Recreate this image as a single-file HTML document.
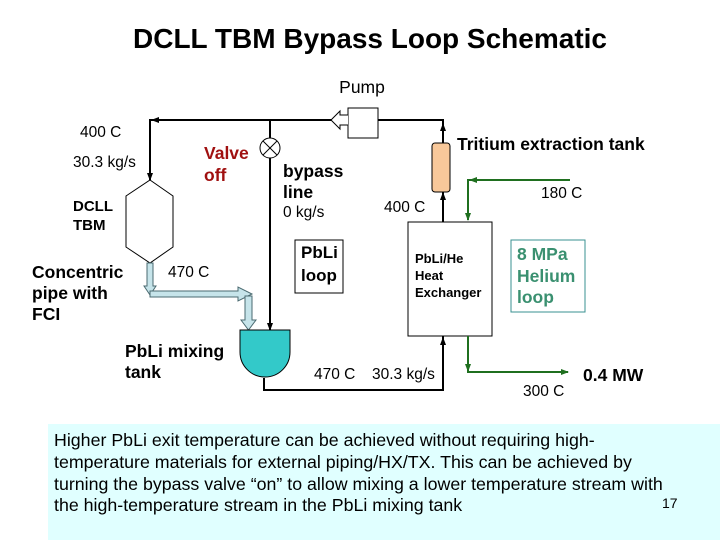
<!DOCTYPE html>
<html><head><meta charset="utf-8"><style>
body{margin:0;background:#fff}
svg{display:block;font-family:"Liberation Sans",Arial,sans-serif}
.b{font-weight:bold}
</style></head><body>
<svg width="720" height="540" viewBox="0 0 720 540">
<defs>
<marker id="a" markerWidth="8" markerHeight="8" refX="7" refY="4" orient="auto" markerUnits="userSpaceOnUse"><path d="M0,1 L8,4 L0,7 Z" fill="#000"/></marker>
<marker id="g" markerWidth="8" markerHeight="8" refX="7" refY="4" orient="auto" markerUnits="userSpaceOnUse"><path d="M0,1 L8,4 L0,7 Z" fill="#1f6f1f"/></marker>
</defs>
<text x="370" y="48" text-anchor="middle" font-size="27.5" class="b" textLength="474" lengthAdjust="spacingAndGlyphs">DCLL TBM Bypass Loop Schematic</text>
<text x="362" y="93" text-anchor="middle" font-size="17.5">Pump</text>

<polyline points="443,222 443,120 378,120" fill="none" stroke="#000" stroke-width="2" />
<line x1="443" y1="145" x2="443" y2="124" stroke="#000" stroke-width="2" marker-end="url(#a)"/>
<line x1="443" y1="222" x2="443" y2="193" stroke="#000" stroke-width="2" marker-end="url(#a)"/>
<polyline points="333,120 150,120 150,180" fill="none" stroke="#000" stroke-width="2" marker-end="url(#a)"/>
<line x1="160" y1="120" x2="152" y2="120" stroke="#000" stroke-width="2" marker-end="url(#a)"/>
<rect x="348" y="108" width="30" height="30" fill="#fff" stroke="#000"/>
<path d="M348,115 L340,115 L340,111 L331,120 L340,129 L340,125 L348,125" fill="#fff" stroke="#000"/>
<line x1="270" y1="120" x2="270" y2="330" stroke="#000" stroke-width="2" marker-end="url(#a)"/>
<circle cx="270" cy="148" r="10" fill="#fff" stroke="#000"/>
<line x1="263" y1="141" x2="277" y2="155" stroke="#000"/><line x1="277" y1="141" x2="263" y2="155" stroke="#000"/>
<polyline points="264,378 264,390 443,390 443,336" fill="none" stroke="#000" stroke-width="2"/>
<line x1="443" y1="360" x2="443" y2="338" stroke="#000" stroke-width="2" marker-end="url(#a)"/>
<polygon points="150,180 173,196 173,247 150,263 126,247 126,196" fill="#fff" stroke="#000"/>
<g fill="#c6e4ea" stroke="#4a6a70" stroke-width="1">
<path d="M147,263 L153,263 L153,286 L156,286 L150,295 L144,286 L147,286 Z"/>
<path d="M150,291 L238,291 L238,287 L252,294 L238,301 L238,297 L150,297 Z"/>
<path d="M245,296 L252,296 L252,320 L256,320 L248.5,330 L241,320 L245,320 Z"/>
</g>
<path d="M240,330 L290,330 L290,352 A25,25 0 0 1 240,352 Z" fill="#33c9c9" stroke="#000"/>
<rect x="432" y="143" width="18" height="49" rx="3" fill="#f8c89a" stroke="#000"/>
<rect x="408" y="222" width="84" height="114" fill="#fff" stroke="#000"/>
<polyline points="570,180 468,180 468,220" fill="none" stroke="#1f6f1f" stroke-width="2" marker-end="url(#g)"/>
<line x1="480" y1="180" x2="470" y2="180" stroke="#1f6f1f" stroke-width="2" marker-end="url(#g)"/>
<polyline points="468,336 468,372 568,372" fill="none" stroke="#1f6f1f" stroke-width="2" marker-end="url(#g)"/>
<line x1="468" y1="360" x2="468" y2="371" stroke="#1f6f1f" stroke-width="2" marker-end="url(#g)"/>
<rect x="511" y="240" width="74" height="72" fill="#fff" stroke="#3a9090"/>
<rect x="295" y="240" width="48" height="53" fill="#fff" stroke="#000"/>

<text x="80" y="137" font-size="15.5">400 C</text>
<text x="73" y="167" font-size="15.5">30.3 kg/s</text>
<text x="73" y="211" font-size="15" class="b">DCLL</text>
<text x="73" y="230" font-size="15" class="b">TBM</text>
<text x="32" y="278" font-size="17.5" class="b">Concentric</text>
<text x="32" y="299" font-size="17.5" class="b">pipe with</text>
<text x="32" y="320" font-size="17.5" class="b">FCI</text>
<text x="168" y="277" font-size="15.5">470 C</text>
<text x="204" y="159" font-size="17.5" class="b" fill="#a01010">Valve</text>
<text x="204" y="181" font-size="17.5" class="b" fill="#a01010">off</text>
<text x="283" y="177" font-size="17.5" class="b">bypass</text>
<text x="283" y="198" font-size="17.5" class="b">line</text>
<text x="283" y="217" font-size="15.5">0 kg/s</text>
<text x="125" y="357" font-size="17.5" class="b">PbLi mixing</text>
<text x="125" y="378" font-size="17.5" class="b">tank</text>
<text x="301" y="258" font-size="17" class="b">PbLi</text>
<text x="301" y="281" font-size="17" class="b">loop</text>
<text x="314" y="379" font-size="15.5">470 C</text>
<text x="372" y="379" font-size="15.5">30.3 kg/s</text>
<text x="384" y="212" font-size="15.5">400 C</text>
<text x="457" y="150" font-size="17.5" class="b">Tritium extraction tank</text>
<text x="541" y="198" font-size="15.5">180 C</text>
<text x="415" y="263" font-size="13" class="b">PbLi/He</text>
<text x="415" y="280" font-size="13" class="b">Heat</text>
<text x="415" y="297" font-size="13" class="b">Exchanger</text>
<text x="517" y="260" font-size="17.5" class="b" fill="#3a9070">8 MPa</text>
<text x="517" y="282" font-size="17.5" class="b" fill="#3a9070">Helium</text>
<text x="517" y="303" font-size="17.5" class="b" fill="#3a9070">loop</text>
<text x="583" y="381" font-size="17.5" class="b">0.4 MW</text>
<text x="523" y="396" font-size="15.5">300 C</text>

<rect x="48" y="424" width="672" height="116" fill="#e0ffff"/>
<text font-size="17.8">
<tspan x="54" y="446">Higher PbLi exit temperature can be achieved  without requiring high-</tspan>
<tspan x="54" y="468">temperature materials for external piping/HX/TX. This can be achieved by</tspan>
<tspan x="54" y="490">turning the bypass valve “on” to allow mixing a lower temperature stream with</tspan>
<tspan x="54" y="511">the high-temperature stream in the PbLi mixing tank</tspan>
</text>
<text x="662" y="508" font-size="14">17</text>
</svg>
</body></html>
